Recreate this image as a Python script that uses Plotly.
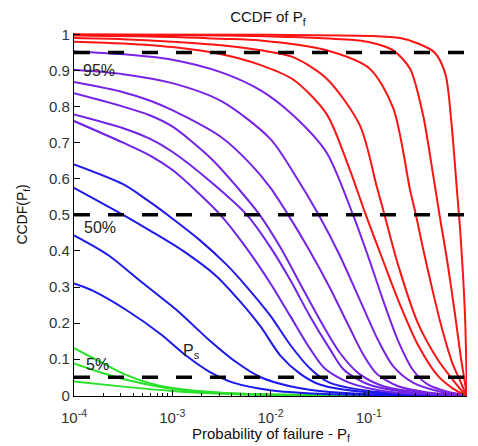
import plotly.graph_objects as go

# ---- data (log10 of Pf, CCDF value) ----
g1_lx = [-4, -3.75, -3.5, -3.25, -3, -2.5, -2, -1, 0]
g1_y = [0.131, 0.095, 0.06, 0.035, 0.02, 0.007, 0.002, 0.0003, 0]
g2_lx = [-4, -3.75, -3.5, -3.25, -3, -2.5, -2, -1, 0]
g2_y = [0.088, 0.065, 0.045, 0.03, 0.018, 0.006, 0.002, 0.0003, 0]
g3_lx = [-4, -3.5, -3, -2.5, -2, 0]
g3_y = [0.038, 0.024, 0.012, 0.004, 0.001, 0]

b1_lx = [-4, -3.81, -3.46, -3.12, -2.85, -2.62, -2.38, -2.0, -1.5, -1.0, 0]
b1_y = [0.31, 0.29, 0.235, 0.17, 0.108, 0.065, 0.035, 0.014, 0.004, 0.001, 0]
b2_lx = [-4, -3.65, -3.31, -2.95, -2.62, -2.34, -2.1, -1.8, -1.5, -1.0, 0]
b2_y = [0.443, 0.388, 0.313, 0.235, 0.152, 0.09, 0.05, 0.025, 0.012, 0.003, 0]
b3_lx = [-4, -3.5, -3.23, -2.89, -2.55, -2.31, -2.1, -1.9, -1.7, -1.5, -1.0, 0]
b3_y = [0.575, 0.50, 0.457, 0.40, 0.33, 0.26, 0.19, 0.11, 0.06, 0.03, 0.008, 0]
b4_lx = [-4, -3.5, -3.25, -3.0, -2.72, -2.44, -2.24, -2.0, -1.8, -1.6, -1.4, -1.0, -0.5, 0]
b4_y = [0.64, 0.585, 0.54, 0.49, 0.43, 0.36, 0.30, 0.22, 0.14, 0.075, 0.035, 0.012, 0.003, 0]

p6_lx = [-4, -3.5, -3.23, -3, -2.75, -2.51, -2.25, -2.0, -1.8, -1.6, -1.45, -1.2, -0.8, 0]
p6_y = [0.76, 0.70, 0.665, 0.625, 0.565, 0.5, 0.41, 0.31, 0.22, 0.13, 0.075, 0.035, 0.01, 0]
p5_lx = [-4, -3.5, -3.23, -3, -2.6, -2.24, -2.0, -1.8, -1.6, -1.4, -1.25, -1.0, -0.6, 0]
p5_y = [0.778, 0.74, 0.711, 0.675, 0.59, 0.5, 0.41, 0.32, 0.22, 0.13, 0.07, 0.03, 0.009, 0]
p4_lx = [-4, -3.5, -3.23, -3, -2.6, -2.35, -2.11, -1.9, -1.7, -1.5, -1.3, -1.1, -0.85, -0.5, 0]
p4_y = [0.837, 0.80, 0.776, 0.745, 0.655, 0.58, 0.5, 0.41, 0.31, 0.21, 0.12, 0.06, 0.025, 0.008, 0]
p3_lx = [-4, -3.5, -3.23, -3, -2.5, -2.2, -2.0, -1.82, -1.6, -1.4, -1.2, -1.05, -0.92, -0.7, -0.4, 0]
p3_y = [0.868, 0.84, 0.817, 0.79, 0.715, 0.64, 0.575, 0.5, 0.4, 0.3, 0.19, 0.11, 0.06, 0.025, 0.008, 0]
p2_lx = [-4, -3.5, -3, -2.5, -2.0, -1.75, -1.51, -1.3, -1.1, -0.9, -0.75, -0.55, -0.3, 0]
p2_y = [0.902, 0.89, 0.865, 0.815, 0.71, 0.61, 0.5, 0.39, 0.27, 0.15, 0.08, 0.035, 0.012, 0]
p1_lx = [-4, -3.5, -3, -2.5, -2.1, -1.77, -1.43, -1.16, -1.0, -0.85, -0.7, -0.55, -0.4, -0.2, 0]
p1_y = [0.953, 0.945, 0.93, 0.895, 0.845, 0.776, 0.673, 0.5, 0.38, 0.26, 0.15, 0.07, 0.03, 0.01, 0]

r5_lx = [-4, -3.5, -3, -2.5, -2.1, -1.77, -1.43, -1.2, -1.03, -0.85, -0.71, -0.5, -0.3, -0.15, -0.05, 0]
r5_y = [0.98, 0.975, 0.965, 0.945, 0.915, 0.875, 0.78, 0.63, 0.5, 0.37, 0.27, 0.14, 0.055, 0.02, 0.005, 0]
r4_lx = [-4, -3.5, -3, -2.5, -2.1, -1.77, -1.43, -1.09, -0.92, -0.84, -0.7, -0.5, -0.3, -0.15, -0.05, 0]
r4_y = [0.99, 0.987, 0.98, 0.97, 0.956, 0.937, 0.878, 0.748, 0.58, 0.5, 0.36, 0.2, 0.1, 0.045, 0.012, 0]
r3_lx = [-4, -3, -2.5, -2.1, -1.43, -0.99, -0.75, -0.58, -0.52, -0.45, -0.35, -0.25, -0.15, -0.07, -0.03, 0]
r3_y = [0.997, 0.993, 0.988, 0.983, 0.956, 0.905, 0.795, 0.57, 0.5, 0.41, 0.29, 0.18, 0.09, 0.04, 0.015, 0]
r2_lx = [-4, -2.5, -1.5, -1.09, -0.9, -0.75, -0.58, -0.45, -0.35, -0.28, -0.2, -0.12, -0.06, -0.03, 0]
r2_y = [1.0, 0.997, 0.99, 0.983, 0.972, 0.956, 0.905, 0.78, 0.62, 0.5, 0.37, 0.22, 0.1, 0.05, 0]
r1_lx = [-4, -2, -1, -0.68, -0.5, -0.33, -0.22, -0.16, -0.1, -0.07, -0.04, -0.02, -0.01, -0.004, 0]
r1_y = [1.0, 0.999, 0.996, 0.99, 0.975, 0.95, 0.89, 0.76, 0.56, 0.46, 0.33, 0.22, 0.12, 0.05, 0]

curves = [
    (g3_lx, g3_y, "rgb(40,225,40)"),
    (g2_lx, g2_y, "rgb(40,225,40)"),
    (g1_lx, g1_y, "rgb(40,225,40)"),
    (b1_lx, b1_y, "rgb(25,25,235)"),
    (b2_lx, b2_y, "rgb(25,25,235)"),
    (b3_lx, b3_y, "rgb(30,25,235)"),
    (b4_lx, b4_y, "rgb(35,25,235)"),
    (p6_lx, p6_y, "rgb(110,35,230)"),
    (p5_lx, p5_y, "rgb(112,35,230)"),
    (p4_lx, p4_y, "rgb(115,35,230)"),
    (p3_lx, p3_y, "rgb(118,35,230)"),
    (p2_lx, p2_y, "rgb(120,35,230)"),
    (p1_lx, p1_y, "rgb(122,35,230)"),
    (r5_lx, r5_y, "rgb(250,20,20)"),
    (r4_lx, r4_y, "rgb(250,20,20)"),
    (r3_lx, r3_y, "rgb(250,20,20)"),
    (r2_lx, r2_y, "rgb(250,20,20)"),
    (r1_lx, r1_y, "rgb(250,20,20)"),
]

levels = [0.95, 0.5, 0.05]
x_ticks = [1e-4, 1e-3, 1e-2, 1e-1, 1]
x_tick_labels = ["10<sup>-4</sup>", "10<sup>-3</sup>", "10<sup>-2</sup>", "10<sup>-1</sup>", "10<sup>0</sup>"]
y_ticks = [0, 0.1, 0.2, 0.3, 0.4, 0.5, 0.6, 0.7, 0.8, 0.9, 1]
minor_x = [m * 10 ** e for e in (-4, -3, -2, -1) for m in range(2, 10)]

fig = go.Figure()
for lx, y, c in curves:
    fig.add_trace(go.Scatter(x=[10 ** v for v in lx], y=y, mode="lines",
                             line=dict(color=c, width=2, shape="spline", smoothing=0.8),
                             hoverinfo="skip", showlegend=False))
for lv in levels:
    fig.add_trace(go.Scatter(x=[1e-4, 1], y=[lv, lv], mode="lines",
                             line=dict(color="black", width=3.5, dash="16px,18px"),
                             showlegend=False, hoverinfo="skip"))

FONT = "Liberation Sans, Arial, sans-serif"
ann = [
    dict(x=-3.93, y=0.90, text="95%"),
    dict(x=-3.92, y=0.465, text="50%"),
    dict(x=-3.90, y=0.086, text="5%"),
    dict(x=-2.91, y=0.122, text="P<sub>s</sub>"),
]
for a in ann:
    fig.add_annotation(x=a["x"], y=a["y"], text=a["text"], xref="x", yref="y",
                       showarrow=False, xanchor="left", yanchor="middle",
                       font=dict(family=FONT, size=16, color="#222"))

# axis titles as paper annotations
fig.add_annotation(x=-0.132, y=0.5, xref="paper", yref="paper", text="CCDF(P<sub>f</sub>)",
                   textangle=-90, showarrow=False, xanchor="center", yanchor="middle",
                   font=dict(family=FONT, size=14, color="#111"))
fig.add_annotation(x=0.5, y=-0.105, xref="paper", yref="paper",
                   text="Probability of failure - P<sub>f</sub>",
                   showarrow=False, xanchor="center", yanchor="middle",
                   font=dict(family=FONT, size=15, color="#111"))

# page body has an 8px margin; figure is sized to fill the rest of the window
fig.update_layout(
    width=470, height=438,
    margin=dict(l=66, r=11, t=25, b=50),
    paper_bgcolor="white", plot_bgcolor="white",
    font=dict(family=FONT, color="#222"),
    title=dict(text="CCDF of P<sub>f</sub>", x=0.553, xanchor="center", y=0.979, yanchor="middle",
               font=dict(family=FONT, size=15, color="#111")),
)
fig.update_xaxes(type="log", range=[-4, 0], tickvals=x_ticks, ticktext=x_tick_labels,
                 automargin=False, ticklabelstandoff=8,
                 ticks="inside", ticklen=6, tickcolor="black", showline=True, linecolor="black",
                 linewidth=1.2, showgrid=False, zeroline=False, mirror=False,
                 tickfont=dict(family=FONT, size=15, color="#333"),
                 minor=dict(tickvals=minor_x, ticks="inside", ticklen=3, tickcolor="black", showgrid=False))
fig.update_yaxes(range=[-0.002, 1.004], tickvals=y_ticks, ticktext=[f"{v:g}" for v in y_ticks],
                 automargin=False,
                 ticks="inside", ticklen=6, tickcolor="black", showline=True, linecolor="black",
                 linewidth=1.2, showgrid=False, zeroline=False, mirror=False,
                 tickfont=dict(family=FONT, size=15, color="#333"))

fig.write_html("out.html")
